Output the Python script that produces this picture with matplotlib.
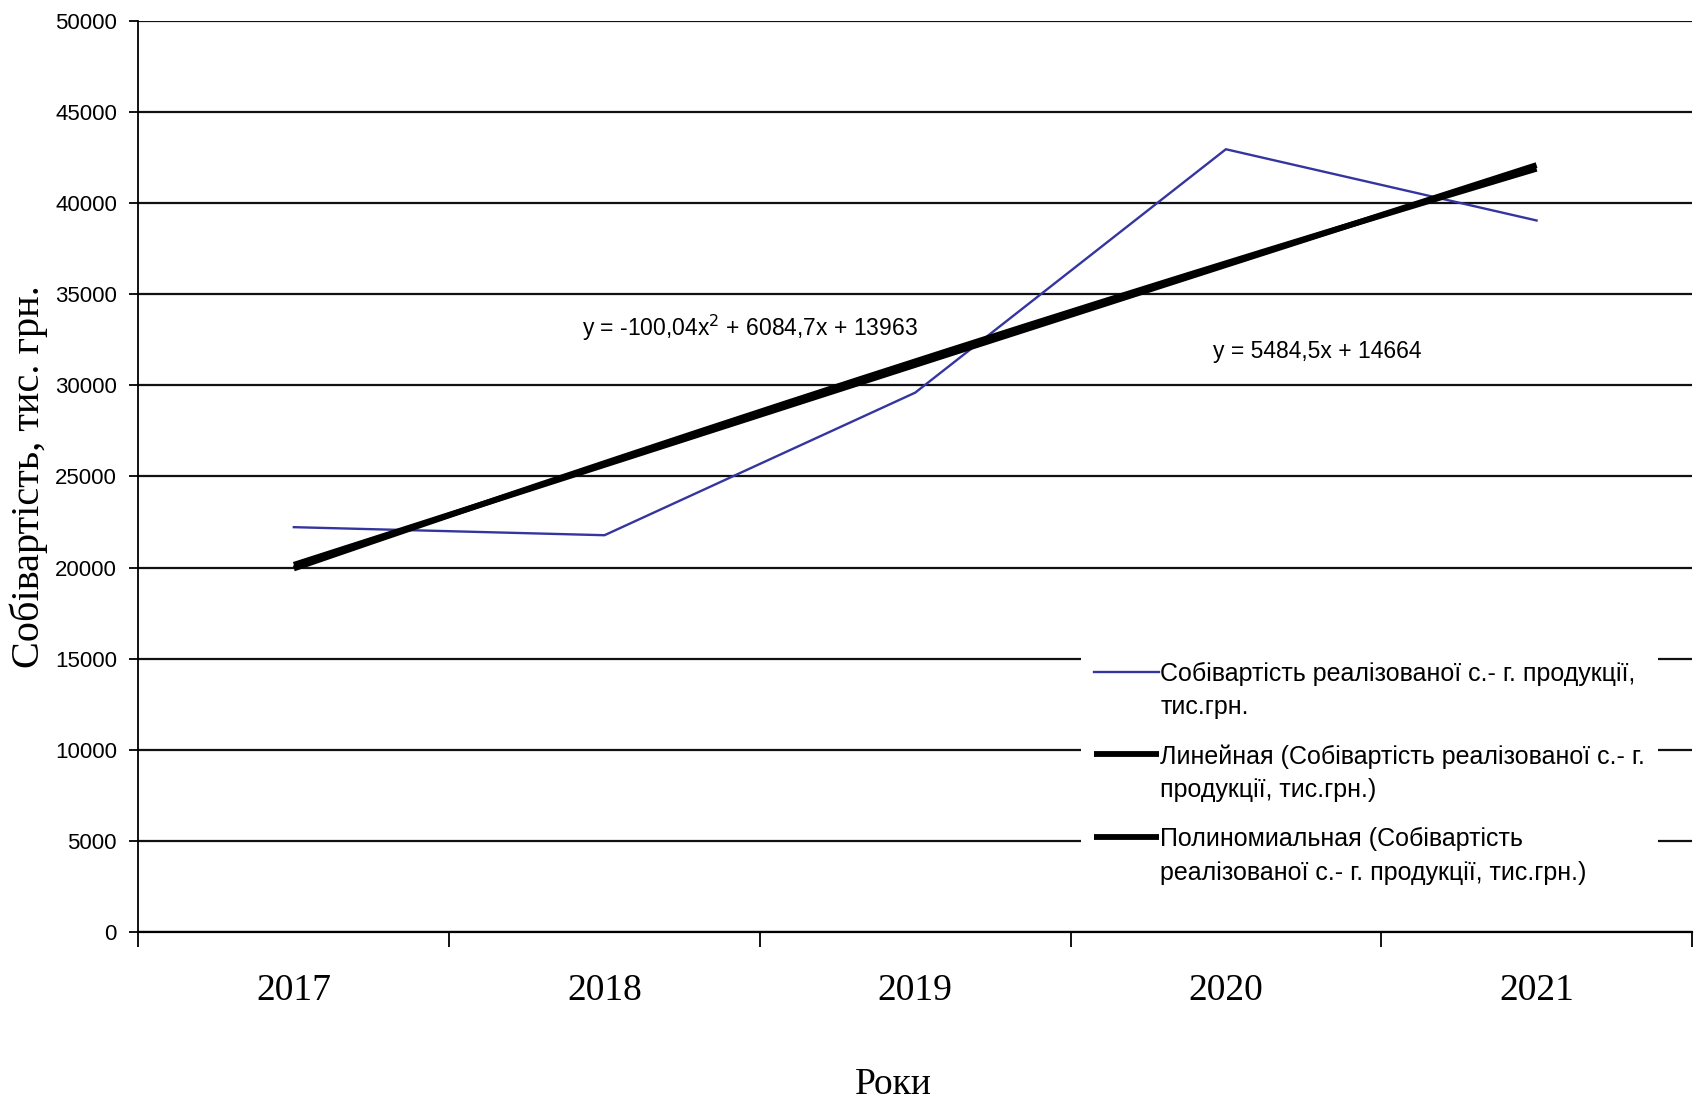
import numpy as np
import matplotlib
matplotlib.use("Agg")
import matplotlib.pyplot as plt
from matplotlib.legend_handler import HandlerLine2D
from matplotlib.lines import Line2D

# Categories and observed values (тис. грн.)
years = ["2017", "2018", "2019", "2020", "2021"]
cost = [22215, 21773, 29597, 42956, 39046]

# Trend-line coefficients, highest power first
linear_coef = [5484.5, 14664]
poly_coef = [-100.04, 6084.7, 13963]

series_label = "Собівартість реалізованої с.- г. продукції,\nтис.грн."
linear_label = "Линейная (Собівартість реалізованої с.- г.\nпродукції, тис.грн.)"
poly_label = "Полиномиальная (Собівартість\nреалізованої с.- г. продукції, тис.грн.)"

SANS = "Liberation Sans"
SERIF = "Liberation Serif"

fig = plt.figure(figsize=(16.97, 10.99), dpi=100)
ax = fig.add_axes([0.0816, 0.152, 0.9154, 0.829])

x = np.arange(1, len(years) + 1)
xs = np.linspace(1, len(years), 200)

ax.plot(x, cost, color="#3535A0", lw=1.7, zorder=4, label=series_label)
ax.plot(xs, np.polyval(linear_coef, xs), color="black", lw=4.2,
        solid_capstyle="butt", zorder=5, label=linear_label)
ax.plot(xs, np.polyval(poly_coef, xs), color="black", lw=4.2,
        solid_capstyle="butt", zorder=5, label=poly_label)

def fmt(v):
    return f"{v:g}".replace(".", ",")

ax.text(1.926, 33135,
        f"y = {fmt(poly_coef[0])}x$^2$ + {fmt(poly_coef[1])}x + {fmt(poly_coef[2])}",
        fontsize=16.5, family=SANS, ha="left", va="center", zorder=6)
ax.text(3.96, 31830, f"y = {fmt(linear_coef[0])}x + {fmt(linear_coef[1])}",
        fontsize=16.5, family=SANS, ha="left", va="center", zorder=6)

ax.set_xlim(0.5, len(years) + 0.5)
ax.set_ylim(0, 50000)
ax.set_yticks(np.arange(0, 50001, 5000))
ax.yaxis.grid(True, color="#111111", lw=1.6)
ax.set_axisbelow(True)

ax.set_xticks(x)
ax.set_xticklabels(years, family=SERIF, fontsize=27)
ax.set_xticks(np.arange(0.5, len(years) + 1), minor=True)
ax.tick_params(axis="x", which="major", length=0, pad=30)
ax.tick_params(axis="x", which="minor", length=11, width=1.3, color="black")
ax.tick_params(axis="y", length=6.5, width=1.3, pad=9, labelsize=16)
for lbl in ax.get_yticklabels():
    lbl.set_family(SANS)

for s in ["top", "right"]:
    ax.spines[s].set_visible(False)
ax.spines["left"].set_linewidth(1.3)
ax.spines["bottom"].set_linewidth(1.6)

ax.set_xlabel("Роки", family=SERIF, fontsize=27)
ax.xaxis.set_label_coords(0.486, -0.149)
ax.set_ylabel("Собівартість, тис. грн.", family=SERIF, fontsize=29)
ax.yaxis.set_label_coords(-0.058, 0.5)


class TopHandler(HandlerLine2D):
    """Line handle aligned with the first text row of a two-line label."""
    def create_artists(self, legend, orig_handle, xdescent, ydescent,
                       width, height, fontsize, trans):
        arts = super().create_artists(legend, orig_handle, xdescent, ydescent,
                                      width, height, fontsize, trans)
        for a in arts:
            a.set_ydata(np.asarray(a.get_ydata()) + 0.78 * fontsize)
        return arts


leg = ax.legend(loc="upper left", bbox_to_anchor=(0.607, 0.3105),
                prop={"family": SANS, "size": 18}, frameon=True,
                facecolor="white", edgecolor="none", framealpha=1.0,
                fancybox=False, handlelength=2.6, handletextpad=0.05,
                labelspacing=1.0, borderpad=0.5, borderaxespad=0,
                handler_map={Line2D: TopHandler()})
for t in leg.get_texts():
    t.set_linespacing(1.5)
leg.set_zorder(10)

fig.savefig("out.png", dpi=100, facecolor="white")
